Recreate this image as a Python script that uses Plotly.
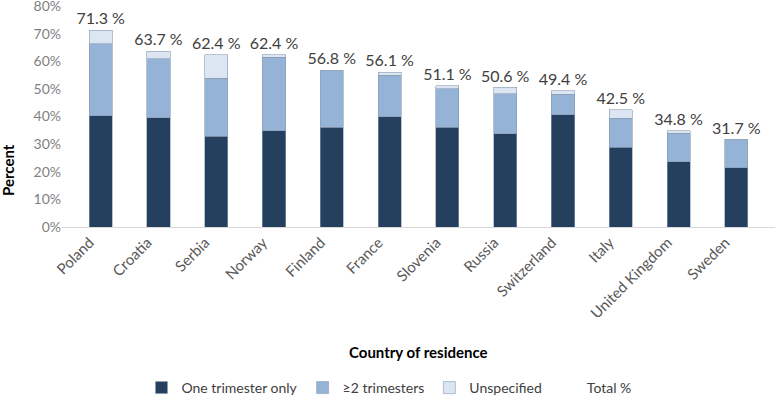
import plotly.graph_objects as go

countries = ["Poland", "Croatia", "Serbia", "Norway", "Finland", "France",
             "Slovenia", "Russia", "Switzerland", "Italy", "United Kingdom", "Sweden"]
one_trimester = [40.2, 39.6, 32.9, 34.8, 36.2, 40.0, 36.2, 33.8, 40.7, 28.8, 23.6, 21.5]
two_plus = [26.2, 21.4, 20.9, 26.6, 20.3, 14.9, 13.9, 14.5, 7.3, 10.6, 10.3, 10.0]
total = [71.3, 63.7, 62.4, 62.4, 56.8, 56.1, 51.1, 50.6, 49.4, 42.5, 34.8, 31.7]
unspecified = [round(t - a - b, 1) for t, a, b in zip(total, one_trimester, two_plus)]

FONT = "Lato"
edge = dict(width=0.6, color="#8a9bb0")

fig = go.Figure()
fig.add_trace(go.Bar(x=countries, y=one_trimester, name="One trimester only",
                     marker=dict(color="#253f5f", line=edge)))
fig.add_trace(go.Bar(x=countries, y=two_plus, name="≥2 trimesters",
                     marker=dict(color="#95b3d7", line=edge)))
fig.add_trace(go.Bar(x=countries, y=unspecified, name="Unspecified",
                     marker=dict(color="#dce6f2", line=edge)))
fig.add_trace(go.Scatter(
    x=countries, y=total, name="Total %", mode="markers+text",
    text=[f"{v:.1f} %" for v in total], textposition="top center",
    textfont=dict(family=FONT, size=16, color="#404040"),
    marker=dict(size=1, color="rgba(0,0,0,0)"), cliponaxis=False,
))

fig.update_layout(
    width=782, height=400,
    barmode="stack", bargap=0.6,
    plot_bgcolor="white", paper_bgcolor="white",
    margin=dict(l=62, r=7, t=6, b=173, autoexpand=False),
    font=dict(family=FONT, color="#595959"),
    showlegend=True,
    legend=dict(orientation="h", x=0.4586, xanchor="center", y=-0.7285, yanchor="middle",
                traceorder="normal",
                font=dict(family=FONT, size=14, color="#404040"),
                itemwidth=30, tracegroupgap=0),
)
fig.update_xaxes(
    tickangle=-45, tickfont=dict(family=FONT, size=15, color="#595959"),
    showline=True, linecolor="#d9d9d9", linewidth=1, showgrid=False, ticks="",
    automargin=False, ticklabeloverflow="allow", ticklabelshift=-11,
)
fig.update_yaxes(
    range=[0, 80.01], dtick=10, ticksuffix="%", showgrid=False, zeroline=False,
    tickfont=dict(family=FONT, size=14, color="#7f7f7f"), automargin=False,
    ticklabeloverflow="allow",
)
fig.add_annotation(text="<b>Country of residence</b>", x=0.5, y=-0.566, xref="paper", yref="paper",
                   xanchor="center", yanchor="middle",
                   showarrow=False, font=dict(family=FONT, size=15, color="#000000"))
fig.add_annotation(text="<b>Percent</b>", x=-0.0757, y=0.258, xref="paper", yref="paper",
                   xanchor="center", yanchor="middle",
                   textangle=-90, showarrow=False, font=dict(family=FONT, size=15, color="#000000"))

# the page's default body margin would shift the figure by 8px
fig.write_html("out.html", config={"displayModeBar": False},
               post_script="document.body.style.margin = '0';")
